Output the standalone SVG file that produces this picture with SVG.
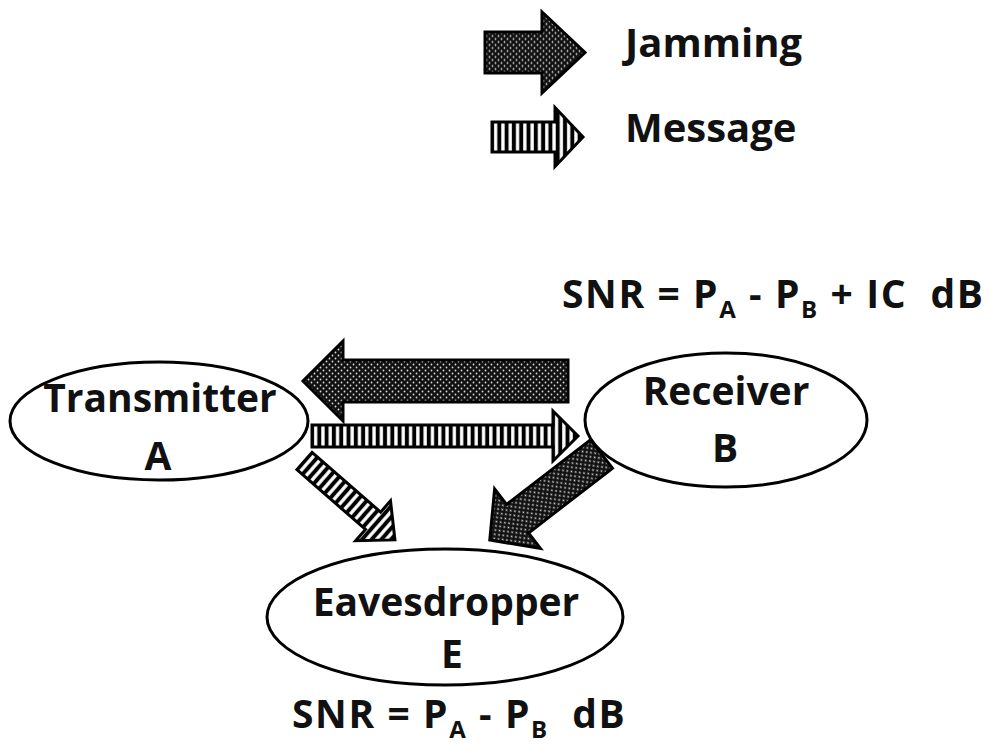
<svg xmlns="http://www.w3.org/2000/svg" width="991" height="749" viewBox="0 0 991 749">
<style>
  .node { fill: #ffffff; stroke: #000000; stroke-width: 3; }
  .lbl { font-family: "Open Sans", "Liberation Sans", sans-serif; font-weight: bold; font-size: 39px; fill: #111111; text-anchor: middle; }
  .txt { font-family: "Open Sans", "Liberation Sans", sans-serif; font-weight: bold; font-size: 40px; fill: #111111; }
  .snr { font-family: "Open Sans", "Liberation Sans", sans-serif; font-weight: bold; font-size: 39px; letter-spacing: 1.6px; fill: #111111; }
  .sub { font-size: 24px; }
  .jam { fill: url(#dots); stroke: #000000; stroke-width: 3; stroke-linejoin: miter; }
  .msg { fill: url(#stripes); stroke: #000000; stroke-width: 3; stroke-linejoin: miter; }
</style>
<defs>
  <pattern id="dots" patternUnits="userSpaceOnUse" width="6" height="6">
    <rect width="6" height="6" fill="#111111"/>
    <circle cx="1.5" cy="1.5" r="0.9" fill="#d8d8d8"/>
    <circle cx="4.5" cy="4.5" r="0.9" fill="#d8d8d8"/>
  </pattern>
  <pattern id="stripes" patternUnits="userSpaceOnUse" width="7.3" height="10">
    <rect width="7.3" height="10" fill="#000000"/>
    <rect x="2" width="3.3" height="10" fill="#ffffff"/>
  </pattern>
</defs>

<g id="legend">
  <polygon class="jam" transform="translate(485,52.5)" points="0,-20.5 57,-20.5 57,-40.5 100,0 57,40.5 57,20.5 0,20.5"/>
  <text class="txt" x="625" y="57">Jamming</text>
  <polygon class="msg" transform="translate(492,137)" points="0,-15 63,-15 63,-29.5 91,0 63,29.5 63,15 0,15"/>
  <text class="txt" x="625" y="142">Message</text>
</g>

<g id="node-transmitter">
  <ellipse class="node" cx="159" cy="421" rx="149" ry="59"/>
  <text class="lbl" x="160" y="412">Transmitter</text>
  <text class="lbl" x="158" y="470">A</text>
</g>
<g id="node-receiver">
  <ellipse class="node" cx="726" cy="420" rx="141" ry="67"/>
  <text class="lbl" x="726" y="405">Receiver</text>
  <text class="lbl" x="725" y="462">B</text>
</g>
<g id="node-eavesdropper">
  <ellipse class="node" cx="445" cy="617" rx="178" ry="68"/>
  <text class="lbl" x="446" y="616">Eavesdropper</text>
  <text class="lbl" x="452" y="668">E</text>
</g>

<g id="connectors">
  <polygon class="jam" transform="translate(568,381) rotate(180)" points="0,-21 225,-21 225,-40 265,0 225,40 225,21 0,21"/>
  <polygon class="msg" transform="translate(312,436)" points="0,-11 241,-11 241,-25 266,0 241,25 241,11 0,11"/>
  <polygon class="msg" transform="translate(304.5,461) rotate(41.1)" points="0,-11.5 91,-11.5 91,-26.5 120,0 91,26.5 91,11.5 0,11.5"/>
  <polygon class="jam" transform="translate(601.5,454) rotate(142.4)" points="0,-18 106,-18 106,-37.5 141,0 106,37.5 106,18 0,18"/>
</g>

<g id="formulas">
  <text class="snr" x="562" y="308" xml:space="preserve">SNR = P<tspan class="sub" dy="10">A</tspan><tspan dy="-10"> - P</tspan><tspan class="sub" dy="10">B</tspan><tspan dy="-10"> + IC  dB</tspan></text>
  <text class="snr" x="292" y="728" xml:space="preserve">SNR = P<tspan class="sub" dy="10">A</tspan><tspan dy="-10"> - P</tspan><tspan class="sub" dy="10">B</tspan><tspan dy="-10">  dB</tspan></text>
</g>
</svg>
